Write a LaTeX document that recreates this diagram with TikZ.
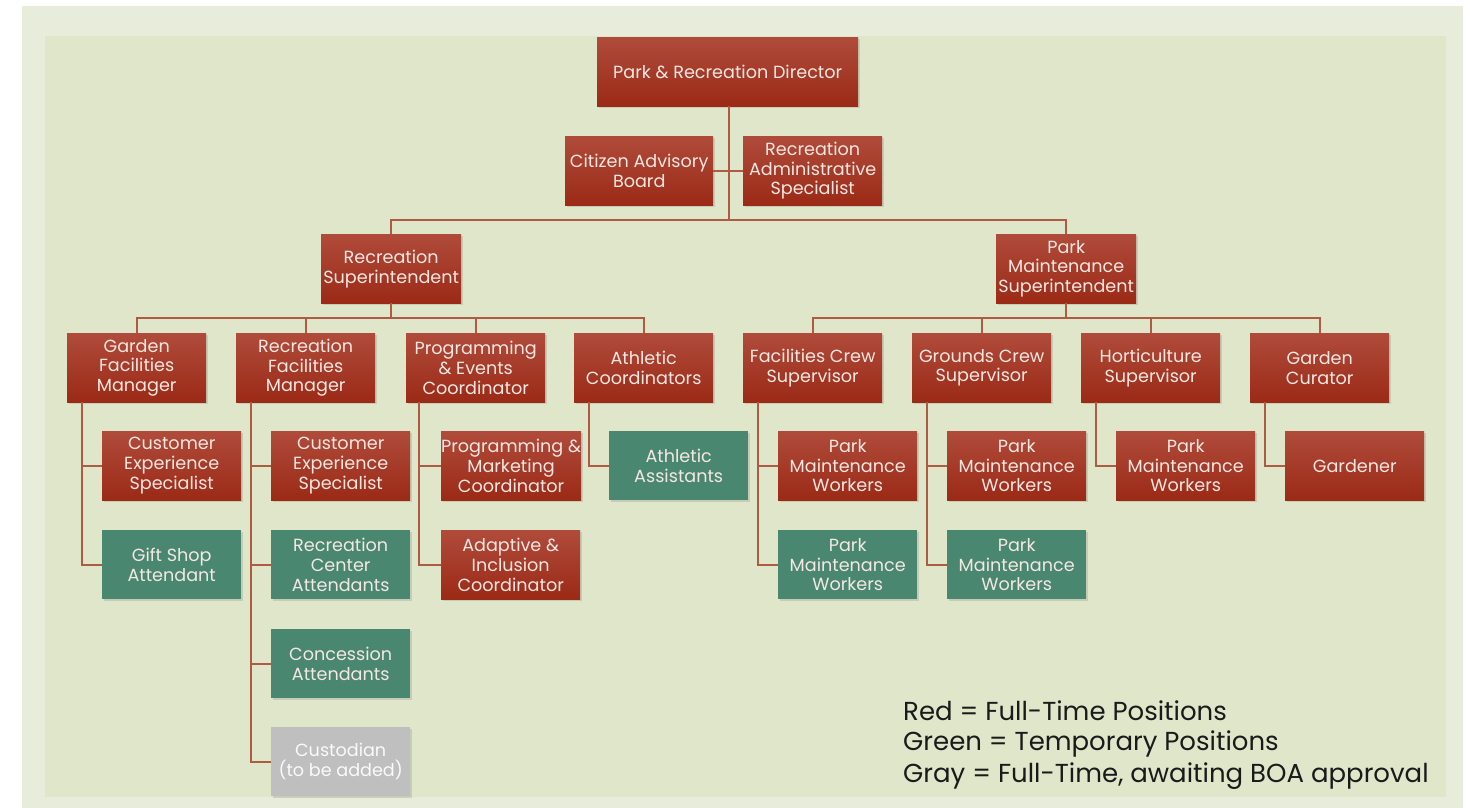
\documentclass[tikz,border=0pt]{standalone}
\usepackage{fontspec}
\setmainfont{Poppins}
\usetikzlibrary{shadows,calc}
\definecolor{outerbg}{HTML}{E8ECDA}
\definecolor{innerbg}{HTML}{DFE6C9}
\definecolor{redtop}{HTML}{B04B3B}
\definecolor{redbot}{HTML}{9B2A16}
\definecolor{greenbox}{HTML}{4A8770}
\definecolor{graybox}{HTML}{BFBFBF}
\definecolor{redtext}{HTML}{F5E8E3}
\definecolor{conn}{HTML}{AF5A42}
\definecolor{legendtext}{HTML}{1A1A1A}
\tikzset{
  box/.style={rectangle, anchor=north west, minimum width=139pt, minimum height=69pt,
    inner sep=0pt, align=center, font=\fontsize{17.6}{19.8}\selectfont,
    drop shadow={opacity=0.25, shadow xshift=1.5pt, shadow yshift=-2pt}},
  redbox/.style={box, top color=redtop, bottom color=redbot, text=redtext},
  greenb/.style={box, fill=greenbox, text=redtext},
  grayb/.style={box, fill=graybox, text=white!92!graybox},
  link/.style={draw=conn, line width=1.6pt},
  legend/.style={anchor=west, inner sep=0pt, text=legendtext, font=\fontsize{26}{28}\selectfont}
}
\begin{document}
\begin{tikzpicture}[x=1pt,y=-1pt]
\useasboundingbox (0,0) rectangle (1470,808);
\fill[white] (0,0) rectangle (1470,808);
\fill[outerbg] (22,6) rectangle (1463,808);
\fill[innerbg] (45,36) rectangle (1446,797);

% top
\node[redbox, minimum width=261pt] (dir) at (597,37) {Park \& Recreation Director};
\node[redbox, minimum width=148pt] (cab) at (565,136) {Citizen Advisory\\Board};
\node[redbox] (ras) at (743,136) {Recreation\\Administrative\\Specialist};
% level 2
\node[redbox, minimum width=140pt] (rs) at (321,234) {Recreation\\Superintendent};
\node[redbox, minimum width=140pt] (pms) at (996,234) {Park\\Maintenance\\Superintendent};
% level 3
\node[redbox] (gfm) at (67,333) {Garden\\Facilities\\Manager};
\node[redbox] (rfm) at (236,333) {Recreation\\Facilities\\Manager};
\node[redbox] (pec) at (406,333) {Programming\\\& Events\\Coordinator};
\node[redbox] (ac) at (574,333) {Athletic\\Coordinators};
\node[redbox] (fcs) at (743,333) {Facilities Crew\\Supervisor};
\node[redbox] (gcs) at (912,333) {Grounds Crew\\Supervisor};
\node[redbox] (hs) at (1081,333) {Horticulture\\Supervisor};
\node[redbox] (gc) at (1250,333) {Garden\\Curator};
% level 4+
\node[redbox] (gfm1) at (102,431) {Customer\\Experience\\Specialist};
\node[greenb] (gfm2) at (102,530) {Gift Shop\\Attendant};
\node[redbox] (rfm1) at (271,431) {Customer\\Experience\\Specialist};
\node[greenb] (rfm2) at (271,530) {Recreation\\Center\\Attendants};
\node[greenb] (rfm3) at (271,629) {Concession\\Attendants};
\node[grayb] (rfm4) at (271,727) {Custodian\\(to be added)};
\node[redbox] (pec1) at (441,431) {Programming \&\\Marketing\\Coordinator};
\node[redbox] (pec2) at (441,530) {Adaptive \&\\Inclusion\\Coordinator};
\node[greenb] (ac1) at (609,431) {Athletic\\Assistants};
\node[redbox] (fcs1) at (778,431) {Park\\Maintenance\\Workers};
\node[greenb] (fcs2) at (778,530) {Park\\Maintenance\\Workers};
\node[redbox] (gcs1) at (947,431) {Park\\Maintenance\\Workers};
\node[greenb] (gcs2) at (947,530) {Park\\Maintenance\\Workers};
\node[redbox] (hs1) at (1116,431) {Park\\Maintenance\\Workers};
\node[redbox] (gc1) at (1285,431) {Gardener};

% connectors
\coordinate (bus1) at ($(rs.north)+(0,-14)$);
\draw[link] ([xshift=1.5pt]dir.south) -- ([xshift=1.5pt]dir.south |- bus1);
\draw[link] (cab.east) -- (ras.west);
\draw[link] (rs.north) -- (bus1) -| (pms.north);
\foreach \c in {gfm,rfm,pec,ac}{\draw[link] (\c.north) -- ++(0,-15) -| (rs.south);}
\foreach \c in {fcs,gcs,hs,gc}{\draw[link] (\c.north) -- ++(0,-15) -| (pms.south);}
\draw[link] ([xshift=15pt]gfm.south west) |- (gfm1.west);
\draw[link] ([xshift=15pt]gfm.south west) |- (gfm2.west);
\draw[link] ([xshift=15pt]rfm.south west) |- (rfm1.west);
\draw[link] ([xshift=15pt]rfm.south west) |- (rfm2.west);
\draw[link] ([xshift=15pt]rfm.south west) |- (rfm3.west);
\draw[link] ([xshift=15pt]rfm.south west) |- (rfm4.west);
\draw[link] ([xshift=13pt]pec.south west) |- (pec1.west);
\draw[link] ([xshift=13pt]pec.south west) |- (pec2.west);
\draw[link] ([xshift=15pt]ac.south west) |- (ac1.west);
\draw[link] ([xshift=15pt]fcs.south west) |- (fcs1.west);
\draw[link] ([xshift=15pt]fcs.south west) |- (fcs2.west);
\draw[link] ([xshift=15pt]gcs.south west) |- (gcs1.west);
\draw[link] ([xshift=15pt]gcs.south west) |- (gcs2.west);
\draw[link] ([xshift=15pt]hs.south west) |- (hs1.west);
\draw[link] ([xshift=15pt]gc.south west) |- (gc1.west);

% legend
\node[legend] (l1) at (903,711) {Red = Full-Time Positions};
\node[legend] (l2) at (903,744) {Green = Temporary Positions};
\node[legend] (l3) at (903,776) {Gray = Full-Time, awaiting BOA approval};
\end{tikzpicture}
\end{document}
